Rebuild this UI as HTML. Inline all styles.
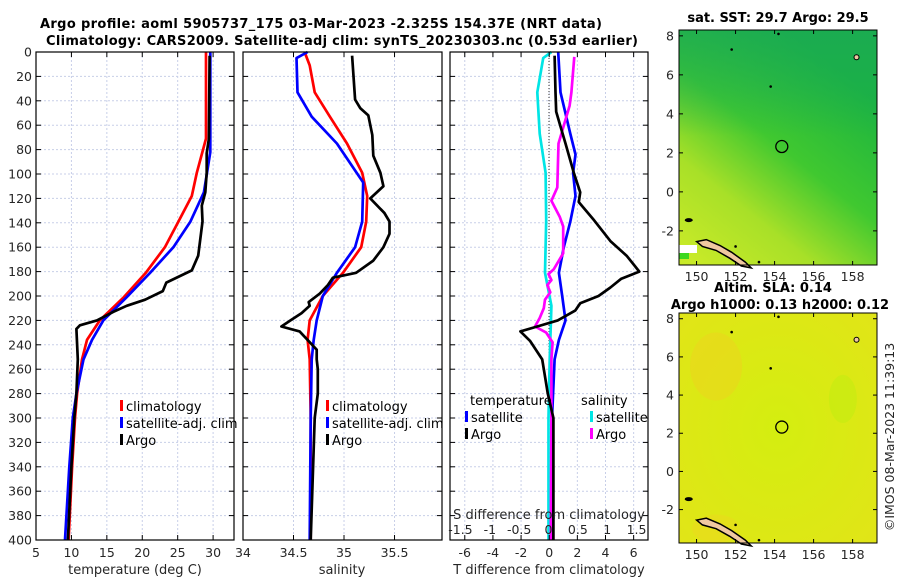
<!DOCTYPE html>
<html><head><meta charset="utf-8">
<style>
html,body{margin:0;padding:0;background:#fff;}
svg{display:block;font-family:"DejaVu Sans","Liberation Sans",sans-serif;}
.tk{font-size:12.5px;fill:#262626;}
.ttl{font-size:13px;font-weight:bold;fill:#000;}
.lg{font-size:13px;fill:#000;}
</style></head>
<body>
<svg id="chart" width="900" height="580" viewBox="0 0 900 580" xmlns="http://www.w3.org/2000/svg">
<rect width="900" height="580" fill="#fff"/>
<text class="ttl" x="321" y="28" text-anchor="middle" textLength="562">Argo profile: aoml 5905737_175 03-Mar-2023 -2.325S 154.37E (NRT data)</text>
<text class="ttl" x="342" y="45" text-anchor="middle" textLength="592">Climatology: CARS2009. Satellite-adj clim: synTS_20230303.nc (0.53d earlier)</text>
<g id="panels"></g>
<g id="maps"></g>
</svg>
<script>
// ---- data ----
const depthTicks=[0,20,40,60,80,100,120,140,160,180,200,220,240,260,280,300,320,340,360,380,400];
const tempTicks=[5,10,15,20,25,30];
const salTicks=[34,34.5,35,35.5];
const salTickLabels=["34","34.5","35","35.5"];
const tdiffTicks=[-6,-4,-2,0,2,4,6];
const sdiffTicks=[-1.5,-1,-0.5,0,0.5,1,1.5];
const sdiffTickLabels=["-1.5","-1","-0.5","0","0.5","1","1.5"];

const tClimDepth=[0,71,99,118,139,160,181,201,220,236,252,280,300,340,400];
const tClimVal=[29.0,29.0,27.7,27.0,25.1,23.2,20.5,17.4,14.0,12.2,11.5,10.8,10.5,10.1,9.6];
const tSatDepth=[0,82,115,139,160,181,201,220,236,252,280,300,340,400];
const tSatVal=[29.6,29.6,28.7,26.8,24.4,21.1,17.8,14.5,12.9,11.7,10.7,10.2,9.7,9.1];
const tArgoDepth=[3,71,83,99,115,126,139,167,179,189,196,203,208,213,220,224,227,252,280,300,340,400];
const tArgoVal=[29.5,29.4,29.1,29.1,28.9,28.4,28.5,27.9,27.0,23.4,22.9,20.4,17.8,15.9,13.6,11.2,10.7,10.9,10.7,10.4,10.0,9.5];

const sClimDepth=[0,11,33,53,75,99,118,139,160,181,200,220,236,252,300,400];
const sClimVal=[34.61,34.66,34.71,34.86,35.03,35.18,35.23,35.22,35.17,34.99,34.79,34.66,34.64,34.66,34.67,34.67];
const sSatDepth=[0,5,33,53,75,107,139,160,181,200,220,236,252,300,400];
const sSatVal=[34.64,34.53,34.54,34.68,34.93,35.19,35.18,35.11,34.93,34.79,34.73,34.70,34.68,34.67,34.66];
const sArgoDepth=[3,39,46,52,68,85,99,110,120,132,139,149,160,171,181,185,191,198,205,208,214,220,225,229,236,244,252,260,280,300,400];
const sArgoVal=[35.08,35.11,35.16,35.24,35.28,35.29,35.36,35.39,35.26,35.40,35.45,35.45,35.39,35.29,35.12,34.89,34.84,34.76,34.65,34.66,34.58,34.47,34.38,34.56,34.64,34.73,34.73,34.74,34.74,34.71,34.67];

const dTSatDepth=[0,33,67,84,99,118,139,160,181,200,220,236,252,300,400];
const dTSatVal=[0.64,0.8,1.5,1.87,1.7,1.87,1.5,1.04,0.69,0.92,1.16,0.69,0.38,0.2,0.2];
const dTArgoDepth=[3,33,49,75,99,115,123,138,155,167,180,186,193,200,206,212,220,225,229,237,252,280,300,400];
const dTArgoVal=[0.38,0.45,0.5,1.16,1.75,2.2,2.1,3.2,4.35,5.5,6.4,5.1,4.35,3.5,2.2,1.85,0.6,-0.85,-2.05,-1.35,-0.5,-0.1,0.3,0.3];
const dSSatDepth=[0,5,33,67,99,138,181,208,252,300,400];
const dSSatVal=[0.05,-0.09,-0.19,-0.15,-0.05,-0.04,-0.06,0.05,0.02,0.0,0.0];
const dSArgoDepth=[4,33,44,67,75,111,122,135,143,165,178,182,187,191,197,203,210,218,225,230,238,252,300,400];
const dSArgoVal=[0.44,0.39,0.36,0.22,0.17,0.15,0.05,0.19,0.25,0.25,0.09,0.0,0.05,-0.02,0.03,-0.06,-0.08,-0.15,-0.23,-0.04,0.07,0.05,0.05,0.04];

const lonTicks=[150,152,154,156,158];
const latTicks=[-2,0,2,4,6,8];
const floatLon=154.37, floatLat=2.325;

// ---- helpers ----
const NS="http://www.w3.org/2000/svg";
function mk(tag,attrs,parent){const e=document.createElementNS(NS,tag);for(const k in attrs)e.setAttribute(k,attrs[k]);parent.appendChild(e);return e;}
const Y0=52,Y1=540;
function sy(d){return Y0+(d/400)*(Y1-Y0);}
const P=document.getElementById('panels');

function panel(name,x0,x1,xmin,xmax){
  const sx=v=>x0+(v-xmin)/(xmax-xmin)*(x1-x0);
  return {name,x0,x1,sx};
}
const p1=panel('temperature',36,234,5,32.95);
const p2=panel('salinity',243,442,34,35.97);
const p3=panel('difference',450,648,-7.05,7.02);
const sdx=v=>548.5+v*58.7;

function grid(p,xt,sxf){
  const g=mk('g',{},P);
  
  
  depthTicks.forEach(d=>{mk('line',{x1:p.x0,x2:p.x1,y1:sy(d),y2:sy(d),stroke:'#c8cfe8','stroke-width':1,'stroke-dasharray':'2,2'},g);});
  xt.forEach(v=>{const x=sxf(v);mk('line',{x1:x,x2:x,y1:Y0,y2:Y1,stroke:'#c8cfe8','stroke-width':1,'stroke-dasharray':'2,2'},g);});
}
function frame(p,xt,sxf,labels,showY){
  const g=mk('g',{},P);
  
  
  mk('rect',{x:p.x0,y:Y0,width:p.x1-p.x0,height:Y1-Y0,fill:'none',stroke:'#000','stroke-width':1.2},g);
  depthTicks.forEach(d=>{const y=sy(d);
    mk('line',{x1:p.x0,x2:p.x0+5,y1:y,y2:y,stroke:'#000'},g);
    mk('line',{x1:p.x1-5,x2:p.x1,y1:y,y2:y,stroke:'#000'},g);
    if(showY){const t=mk('text',{x:p.x0-4,y:y+4.5,'text-anchor':'end',class:'tk'},g);t.textContent=d;}
  });
  xt.forEach((v,i)=>{const x=sxf(v);
    mk('line',{x1:x,x2:x,y1:Y1,y2:Y1-5,stroke:'#000'},g);
    mk('line',{x1:x,x2:x,y1:Y0,y2:Y0+5,stroke:'#000'},g);
    if(labels){const t=mk('text',{x:x,y:Y1+17,'text-anchor':'middle',class:'tk'},g);t.textContent=labels[i];}
  });
}
function line(p,sxf,depths,vals,color,name){
  const pts=depths.map((d,i)=>sxf(vals[i]).toFixed(1)+','+sy(d).toFixed(1)).join(' ');
  const e=mk('polyline',{points:pts,fill:'none',stroke:color,'stroke-width':2.7,'stroke-linejoin':'round'},P);
  
  
}
function txt(x,y,s,cls,name,anchor){
  const t=mk('text',{x:x,y:y,class:cls,'text-anchor':anchor||'start'},P);t.textContent=s;
  
  
  return t;
}
function legendMark(x,y,color,name){
  const r=mk('rect',{x:x,y:y-11,width:3,height:11,fill:color},P);
  
  
}

// Panel 1
grid(p1,tempTicks,p1.sx);
line(p1,p1.sx,tClimDepth,tClimVal,'#ff0000','temp-climatology-line');
line(p1,p1.sx,tSatDepth,tSatVal,'#0000ff','temp-satellite-line');
line(p1,p1.sx,tArgoDepth,tArgoVal,'#000000','temp-argo-line');
frame(p1,tempTicks,p1.sx,tempTicks.map(String),true);
txt(135,574,'temperature (deg C)','tk','temp-x-axis-title','middle').style.fontSize='13px';
legendMark(120,411,'#ff0000','legend-mark-climatology');txt(126,411,'climatology','lg','legend-climatology');
legendMark(120,428,'#0000ff','legend-mark-satellite');txt(126,428,'satellite-adj. clim','lg','legend-satellite');
legendMark(120,445,'#000','legend-mark-argo');txt(126,445,'Argo','lg','legend-argo');

// Panel 2
grid(p2,salTicks,p2.sx);
line(p2,p2.sx,sClimDepth,sClimVal,'#ff0000','sal-climatology-line');
line(p2,p2.sx,sSatDepth,sSatVal,'#0000ff','sal-satellite-line');
line(p2,p2.sx,sArgoDepth,sArgoVal,'#000000','sal-argo-line');
frame(p2,salTicks,p2.sx,salTickLabels,false);
txt(342,574,'salinity','tk','sal-x-axis-title','middle').style.fontSize='13px';
legendMark(326,411,'#ff0000','legend2-mark-climatology');txt(332,411,'climatology','lg','legend2-climatology');
legendMark(326,428,'#0000ff','legend2-mark-satellite');txt(332,428,'satellite-adj. clim','lg','legend2-satellite');
legendMark(326,445,'#000','legend2-mark-argo');txt(332,445,'Argo','lg','legend2-argo');

// Panel 3
grid(p3,tdiffTicks,p3.sx);
(function(){const z=mk('line',{x1:549,x2:549,y1:Y0,y2:Y1,stroke:'#333','stroke-width':1,'stroke-dasharray':'1,2'},P);
})();
line(p3,sdx,dSSatDepth,dSSatVal,'#00e5e5','sdiff-satellite-line');
line(p3,p3.sx,dTSatDepth,dTSatVal,'#0000ff','tdiff-satellite-line');
line(p3,sdx,dSArgoDepth,dSArgoVal,'#ff00ff','sdiff-argo-line');
line(p3,p3.sx,dTArgoDepth,dTArgoVal,'#000000','tdiff-argo-line');
frame(p3,tdiffTicks,p3.sx,tdiffTicks.map(String),false);
txt(549,574,'T difference from climatology','tk','tdiff-x-axis-title','middle').style.fontSize='13px';
txt(549,519,'S difference from climatology','tk','sdiff-axis-title','middle').style.fontSize='13px';
sdiffTicks.forEach((v,i)=>{txt(sdx(v),534,sdiffTickLabels[i],'tk','sdiff-tick-label','middle');});
txt(470,405,'temperature','lg','legend3-temperature-header');
txt(581,405,'salinity','lg','legend3-salinity-header');
legendMark(465,422,'#0000ff','legend3-mark-tsat');txt(471,422,'satellite','lg','legend3-tsat');
legendMark(465,439,'#000','legend3-mark-targo');txt(471,439,'Argo','lg','legend3-targo');
legendMark(590,422,'#00e5e5','legend3-mark-ssat');txt(596,422,'satellite','lg','legend3-ssat');
legendMark(590,439,'#ff00ff','legend3-mark-sargo');txt(596,439,'Argo','lg','legend3-sargo');

// ---- maps ----
const M=document.getElementById('maps');
function mapPanel(name,top,bottom,kind){
  const x0=679,x1=877,lonMin=149.1,lonMax=159.25,latMax=8.3,latMin=-3.75;
  const mx=l=>x0+(l-lonMin)/(lonMax-lonMin)*(x1-x0);
  const my=l=>top+(latMax-l)/(latMax-latMin)*(bottom-top);
  const g=mk('g',{},M);
  
  
  const id=name+'-grad';
  const defs=mk('defs',{},g);
  if(kind==='sst'){
    const lg=mk('linearGradient',{id:id,x1:'0.1',y1:'1',x2:'0.7',y2:'0.1'},defs);
    mk('stop',{offset:'0','stop-color':'#c8ea28'},lg);
    mk('stop',{offset:'0.3','stop-color':'#a8e028'},lg);
    mk('stop',{offset:'0.6','stop-color':'#40c830'},lg);
    mk('stop',{offset:'1','stop-color':'#1cb440'},lg);
    const lg2=mk('linearGradient',{id:id+'2',x1:'0',y1:'0',x2:'0',y2:'1'},defs);
    mk('stop',{offset:'0','stop-color':'#1aa858','stop-opacity':'0.7'},lg2);
    mk('stop',{offset:'0.25','stop-color':'#1aa858','stop-opacity':'0.35'},lg2);
    mk('stop',{offset:'0.45','stop-color':'#1aa858','stop-opacity':'0'},lg2);
  }else{
    const lg=mk('radialGradient',{id:id,cx:'0.5',cy:'0.5',r:'0.75'},defs);
    mk('stop',{offset:'0','stop-color':'#d4ee10'},lg);
    mk('stop',{offset:'1','stop-color':'#e2e418'},lg);
  }
  mk('rect',{x:x0,y:top,width:x1-x0,height:bottom-top,fill:'url(#'+id+')'},g);
  if(kind==='sst'){
    mk('rect',{x:x0,y:top,width:x1-x0,height:bottom-top,fill:'url(#'+id+'2)'},g);
    mk('rect',{x:x0,y:bottom-20,width:18,height:8,fill:'#fff'},g);
    mk('rect',{x:x0,y:bottom-12,width:10,height:6,fill:'#3cd820'},g);
  }else{
    mk('ellipse',{cx:mx(151),cy:my(5.5),rx:26,ry:34,fill:'#f0d020',opacity:0.45},g);
    mk('ellipse',{cx:mx(157.5),cy:my(3.8),rx:14,ry:24,fill:'#b8ee10',opacity:0.4},g);
    mk('ellipse',{cx:mx(151),cy:my(-3),rx:24,ry:14,fill:'#f0d420',opacity:0.4},g);
  }
  // coastline New Ireland
  const coast=[[150.0,-2.55],[150.5,-2.45],[151.2,-2.75],[151.8,-3.1],[152.5,-3.6],[152.8,-3.9],[152.3,-3.8],[151.7,-3.4],[151.0,-3.0],[150.3,-2.8]];
  mk('polygon',{points:coast.map(c=>mx(c[0]).toFixed(1)+','+my(c[1]).toFixed(1)).join(' '),fill:'#f0c8a0',stroke:'#000','stroke-width':1.5},g);
  mk('ellipse',{cx:mx(149.6),cy:my(-1.45),rx:4,ry:2,fill:'#000'},g);
  mk('circle',{cx:mx(158.2),cy:my(6.9),r:2.5,fill:'#f0c8a0',stroke:'#000'},g);
  [[151.8,7.3],[152.0,-2.8],[153.8,5.4],[154.2,8.1],[153.2,-3.6]].forEach(c=>mk('circle',{cx:mx(c[0]),cy:my(c[1]),r:1.3,fill:'#000'},g));
  const fc=mk('circle',{cx:mx(floatLon),cy:my(floatLat),r:6,fill:'none',stroke:'#000','stroke-width':1.3},M);
  
  
  mk('rect',{x:x0,y:top,width:x1-x0,height:bottom-top,fill:'none',stroke:'#000','stroke-width':1},g);
  lonTicks.forEach(l=>{const x=mx(l);
    mk('line',{x1:x,x2:x,y1:bottom,y2:bottom-4,stroke:'#000'},g);
    mk('line',{x1:x,x2:x,y1:top,y2:top+4,stroke:'#000'},g);
    const t=mk('text',{x:x,y:bottom+16,'text-anchor':'middle',class:'tk'},g);t.textContent=l;});
  latTicks.forEach(l=>{const y=my(l);
    mk('line',{x1:x0,x2:x0+4,y1:y,y2:y,stroke:'#000'},g);
    mk('line',{x1:x1-4,x2:x1,y1:y,y2:y,stroke:'#000'},g);
    const t=mk('text',{x:x0-5,y:y+4.5,'text-anchor':'end',class:'tk'},g);t.textContent=l;});
}
mapPanel('sst-map',30,265,'sst');
mapPanel('sla-map',313,543,'sla');
function mt(x,y,s,name){const t=mk('text',{x:x,y:y,'text-anchor':'middle',class:'ttl'},M);t.textContent=s;
  }
mt(778,22,'sat. SST: 29.7 Argo: 29.5','sst-map-title');
mt(773,292,'Altim. SLA: 0.14','sla-map-title-line1');
mt(780,309,'Argo h1000: 0.13 h2000: 0.12','sla-map-title-line2');
(function(){const t=mk('text',{x:0,y:0,class:'tk','text-anchor':'middle',transform:'translate(894,437) rotate(-90)'},M);
t.textContent='©IMOS 08-Mar-2023 11:39:13';
})();
</script>
</body></html>
